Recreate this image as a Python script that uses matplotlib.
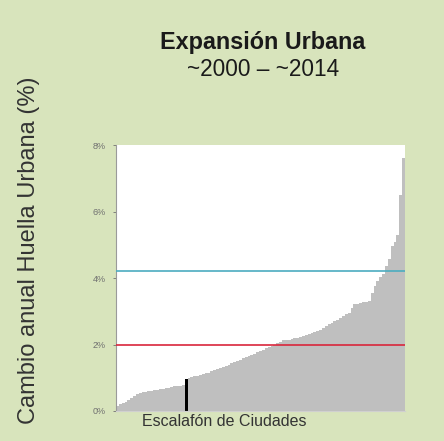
import numpy as np
import matplotlib.pyplot as plt

# annual change of urban footprint (%), cities sorted ascending
cambio = [
    0.15, 0.20, 0.24, 0.28, 0.33, 0.38, 0.44, 0.50, 0.55, 0.57,
    0.58, 0.59, 0.60, 0.62, 0.64, 0.65, 0.67, 0.69, 0.70, 0.72,
    0.74, 0.75, 0.76, 0.77, 0.97, 0.99, 1.01, 1.04, 1.06, 1.09,
    1.11, 1.13, 1.15, 1.19, 1.23, 1.27, 1.30, 1.33, 1.36, 1.39,
    1.43, 1.47, 1.50, 1.54, 1.58, 1.61, 1.65, 1.69, 1.72, 1.76,
    1.80, 1.84, 1.88, 1.91, 1.95, 1.99, 2.04, 2.09, 2.13, 2.14,
    2.15, 2.17, 2.19, 2.21, 2.23, 2.25, 2.28, 2.31, 2.34, 2.37,
    2.40, 2.45, 2.50, 2.56, 2.61, 2.66, 2.70, 2.75, 2.81, 2.87,
    2.92, 2.96, 3.10, 3.21, 3.23, 3.25, 3.27, 3.29, 3.31, 3.55,
    3.77, 3.90, 4.02, 4.12, 4.35, 4.58, 4.95, 5.09, 5.28, 6.50,
    7.60,
]
destacada = 24          # highlighted city (black bar)
ref_roja = 2.0          # reference lines (%)
ref_cian = 4.2
yticks = [0, 2, 4, 6, 8]
ytick_labels = ["0%", "2%", "4%", "6%", "8%"]

plt.rcParams["font.family"] = "sans-serif"
plt.rcParams["font.sans-serif"] = ["Liberation Sans"]

W, H = 444, 441
fig = plt.figure(figsize=(W / 100, H / 100), dpi=100, facecolor="#D8E4BC")

ax = fig.add_axes([116 / W, (H - 411) / H, (405 - 116) / W, (411 - 145) / H])
ax.set_facecolor("white")

x = np.arange(len(cambio))
colors = ["#BFBFBF"] * len(cambio)
colors[destacada] = "black"
ax.bar(x, cambio, width=1.0, color=colors, linewidth=0, zorder=2)

ax.axhline(ref_roja, color="#D9263C", lw=1.2, zorder=3)
ax.axhline(ref_cian, color="#4BACC0", lw=1.2, zorder=3)

ax.set_xlim(-0.5, len(cambio) - 0.5)
ax.set_ylim(0, 8)
ax.set_xticks([])
ax.set_yticks(yticks)
ax.set_yticklabels(ytick_labels)
ax.tick_params(axis="y", labelsize=6.5, colors="#707070", length=2.5, width=0.6, pad=5)
for s in ["top", "right"]:
    ax.spines[s].set_visible(False)
ax.spines["left"].set_color("#9a9a9a")
ax.spines["bottom"].set_color("#D0D0D0")

ax.set_ylabel("Cambio anual Huella Urbana (%)", fontsize=17, color="#333333")
ax.yaxis.set_label_coords(40 / W, (H - 250) / H, transform=fig.transFigure)

fig.text(263 / W, (H - 43) / H, "Expansión Urbana", ha="center", va="center",
         fontsize=16.8, fontweight="bold", color="#1a1a1a")
fig.text(263 / W, (H - 69) / H, "~2000 – ~2014", ha="center", va="center",
         fontsize=16.3, color="#1a1a1a")
fig.text(142 / W, (H - 422) / H, "Escalafón de Ciudades", ha="left", va="center",
         fontsize=11.5, color="#333333")

fig.savefig("out.png", dpi=100, facecolor=fig.get_facecolor())
